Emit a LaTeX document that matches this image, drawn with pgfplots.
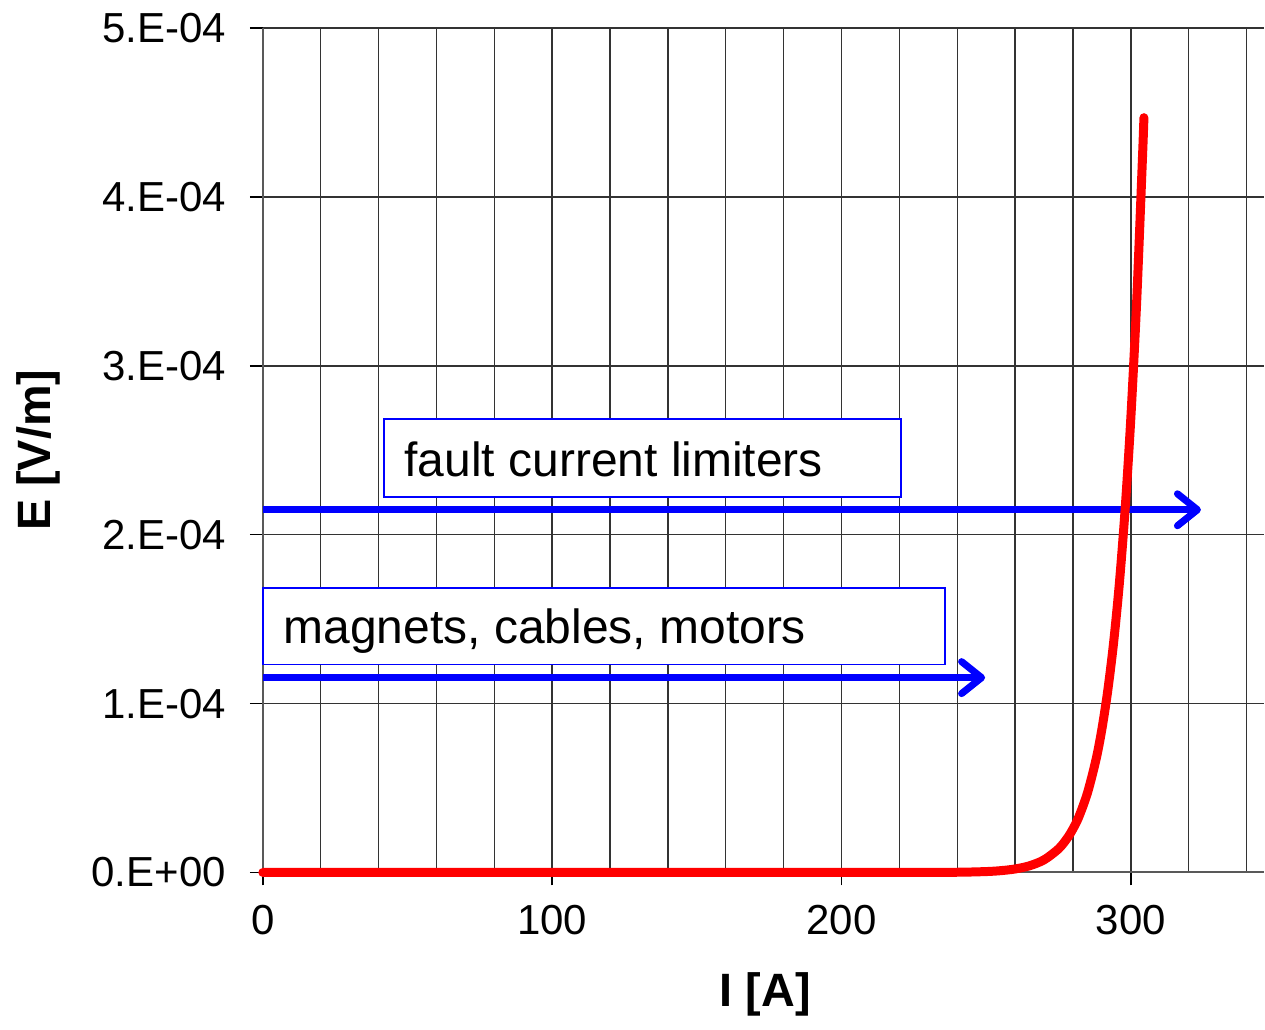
\documentclass[border=0pt]{standalone}
\usepackage{fontspec}
\setmainfont{Liberation Sans}
\usepackage{pgfplots}
\pgfplotsset{compat=1.18}
\usetikzlibrary{arrows.meta}

\begin{document}
\begin{tikzpicture}
\begin{axis}[
    scale only axis,
    width=250.5pt, height=211.25pt,
    xmin=0, xmax=346,
    ymin=0, ymax=5e-4,
    axis lines=left,
    axis line style={-, black!65, line width=0.5pt},
    clip=false,
    xtick={0,100,200,300},
    xticklabels={0,100,200,300},
    minor xtick={20,40,...,340},
    ytick={0,1e-4,2e-4,3e-4,4e-4,5e-4},
    yticklabels={0.E+00,1.E-04,2.E-04,3.E-04,4.E-04,5.E-04},
    scaled y ticks=false,
    grid=both,
    major grid style={black!80, line width=0.35pt},
    minor grid style={black!80, line width=0.35pt},
    tick align=outside,
    major tick length=3.25pt,
    minor tick length=0pt,
    tick style={black, line width=0.35pt},
    tick label style={font=\fontsize{10.5}{12}\selectfont},
    yticklabel style={xshift=-2.5pt},
    xticklabel style={yshift=-1.5pt},
    xlabel={I [A]},
    ylabel={E [V/m]},
    every axis x label/.style={at={(axis description cs:0.502,-0.1444)}, anchor=center,
        font=\bfseries\fontsize{11.7}{14}\selectfont},
    every axis y label/.style={at={(axis description cs:-0.2246,0.5)}, anchor=center, rotate=90,
        font=\bfseries\fontsize{11.7}{14}\selectfont},
]

% keep the page the same size as the reference
\path (rel axis cs:-0.2625,-0.1751) rectangle (rel axis cs:1,1.0296);

% application ranges
\draw[blue, line width=0.4pt, fill=white] (axis cs:41.8,2.686e-4) rectangle (axis cs:220.5,2.225e-4);
\node[anchor=base west, inner sep=0, font=\fontsize{12}{14}\selectfont] at (axis cs:48.7,2.343e-4) {fault current limiters};
\draw[blue, line width=1.75pt, -{Straight Barb[length=5pt, width=8pt, round]}]
    (axis cs:0,2.148e-4) -- (axis cs:324.2,2.148e-4);

\draw[blue, line width=0.4pt, fill=white] (axis cs:0,1.686e-4) rectangle (axis cs:235.7,1.231e-4);
\node[anchor=base west, inner sep=0, font=\fontsize{12}{14}\selectfont] at (axis cs:6.9,1.355e-4) {magnets, cables, motors};
\draw[blue, line width=1.75pt, -{Straight Barb[length=5pt, width=8pt, round]}]
    (axis cs:0,1.154e-4) -- (axis cs:249.6,1.154e-4);

% E(I) characteristic
\addplot[red, line width=2.25pt, line cap=round, line join=round, smooth] coordinates {
    (0,0) (100,0) (200,0) (220,0.007e-6) (240,0.14e-6) (250,0.55e-6) (255,1.08e-6)
    (260,2.08e-6) (265,3.98e-6) (270,7.50e-6) (275,1.40e-5) (278,2.03e-5)
    (280,2.59e-5) (282,3.29e-5) (285,4.72e-5) (288,6.73e-5) (290,8.52e-5)
    (292,1.077e-4) (294,1.358e-4) (296,1.710e-4) (298,2.150e-4) (300,2.699e-4)
    (302,3.383e-4) (304,4.234e-4) (304.5,4.47e-4)
};

\end{axis}
\end{tikzpicture}
\end{document}
